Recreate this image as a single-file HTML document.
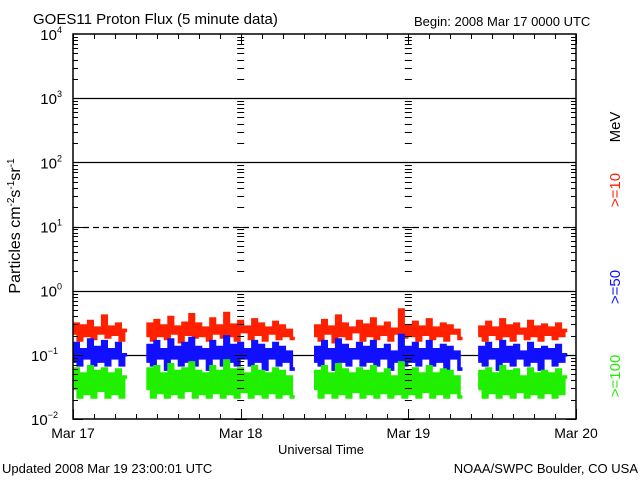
<!DOCTYPE html>
<html><head><meta charset="utf-8">
<style>
html,body{margin:0;padding:0;background:#fff;}
svg{display:block;font-family:"Liberation Sans","DejaVu Sans",sans-serif;}
</style></head>
<body>
<svg id="chart" width="640" height="480" viewBox="0 0 640 480">
<rect x="0" y="0" width="640" height="480" fill="#fff"/>
<text x="33" y="24" font-size="15">GOES11 Proton Flux (5 minute data)</text>
<text x="414" y="26" font-size="13">Begin: 2008 Mar 17 0000 UTC</text>
<g id="grid"></g>
<g id="series"></g>
<g id="axes"></g>
<text x="278" y="454" font-size="13">Universal Time</text>
<text transform="translate(20,226) rotate(-90)" text-anchor="middle" font-size="16">Particles cm<tspan dy="-6" font-size="10">-2</tspan><tspan dy="6">s</tspan><tspan dy="-6" font-size="10">-1</tspan><tspan dy="6">sr</tspan><tspan dy="-6" font-size="10">-1</tspan></text>
<text transform="translate(620,127) rotate(-90)" text-anchor="middle" font-size="15" fill="#000">MeV</text>
<text transform="translate(620,190) rotate(-90)" text-anchor="middle" font-size="15" fill="#ff2000">&gt;=10</text>
<text transform="translate(620,287) rotate(-90)" text-anchor="middle" font-size="15" fill="#1010ff">&gt;=50</text>
<text transform="translate(620,376) rotate(-90)" text-anchor="middle" font-size="15" fill="#20f000">&gt;=100</text>
<text x="2" y="473" font-size="13">Updated 2008 Mar 19 23:00:01 UTC</text>
<text x="638" y="473" font-size="13" text-anchor="end">NOAA/SWPC Boulder, CO USA</text>
</svg>
<script>
// 30-minute samples starting 2008 Mar 17 00:00 UTC; null = data gap
const n = null;
const dayLabels = ["Mar 17","Mar 18","Mar 19","Mar 20"];
const yDecades = [-2,-1,0,1,2,3,4];
const red10 = [
0.22,0.3,0.17,0.28,0.2,0.33,0.18,0.26,0.22,0.4,0.19,0.27,0.21,0.3,0.17,0.24,
n,n,n,n,n,
0.2,0.3,0.17,0.34,0.2,0.28,0.18,0.38,0.22,0.27,0.16,0.31,0.21,0.42,0.19,0.3,0.2,0.26,0.17,0.36,0.22,0.28,0.19,0.44,0.2,0.29,0.17,0.33,0.23,0.27,0.18,0.35,0.21,0.3,0.17,0.26,0.22,0.32,0.18,0.28,0.2,0.24,0.18,
n,n,n,n,n,
0.2,0.28,0.17,0.34,0.22,0.27,0.16,0.4,0.2,0.3,0.18,0.26,0.23,0.33,0.17,0.29,0.2,0.36,0.18,0.27,0.21,0.31,0.17,0.25,0.22,0.5,0.19,0.28,0.2,0.32,0.17,0.27,0.21,0.35,0.18,0.26,0.2,0.3,0.17,0.28,0.22,0.24,0.18,
n,n,n,n,
0.2,0.27,0.17,0.32,0.21,0.26,0.18,0.35,0.2,0.28,0.17,0.3,0.22,0.25,0.18,0.33,0.2,0.27,0.17,0.29,0.21,0.26,0.18,0.3,0.2,0.24,
n,n];
const blue50 = [
0.08,0.15,0.07,0.12,0.09,0.17,0.07,0.13,0.08,0.16,0.07,0.12,0.09,0.15,0.07,0.1,
n,n,n,n,n,
0.08,0.14,0.07,0.16,0.09,0.12,0.06,0.17,0.09,0.13,0.07,0.15,0.08,0.18,0.07,0.13,0.09,0.12,0.06,0.16,0.09,0.13,0.07,0.19,0.08,0.14,0.07,0.15,0.09,0.12,0.07,0.16,0.08,0.14,0.06,0.12,0.09,0.15,0.07,0.13,0.08,0.11,0.06,
n,n,n,n,n,
0.08,0.13,0.07,0.16,0.09,0.12,0.06,0.17,0.08,0.14,0.07,0.12,0.09,0.15,0.07,0.13,0.08,0.16,0.07,0.12,0.09,0.14,0.06,0.11,0.08,0.2,0.07,0.13,0.08,0.15,0.07,0.12,0.09,0.16,0.07,0.12,0.08,0.14,0.06,0.13,0.09,0.11,0.06,
n,n,n,n,
0.08,0.13,0.07,0.15,0.09,0.12,0.06,0.16,0.08,0.13,0.07,0.14,0.09,0.11,0.07,0.15,0.08,0.12,0.06,0.13,0.09,0.12,0.07,0.14,0.08,0.1,
n,n];
const green100 = [
0.03,0.06,0.022,0.05,0.025,0.065,0.022,0.055,0.028,0.06,0.022,0.05,0.025,0.058,0.022,0.045,
n,n,n,n,n,
0.03,0.06,0.022,0.065,0.026,0.05,0.022,0.07,0.025,0.055,0.022,0.06,0.028,0.075,0.022,0.055,0.025,0.05,0.022,0.065,0.026,0.055,0.022,0.08,0.025,0.058,0.022,0.06,0.027,0.05,0.022,0.065,0.025,0.055,0.022,0.05,0.026,0.06,0.022,0.055,0.025,0.045,0.022,
n,n,n,n,n,
0.03,0.055,0.022,0.065,0.026,0.05,0.022,0.07,0.025,0.058,0.022,0.05,0.027,0.06,0.022,0.055,0.025,0.065,0.022,0.05,0.026,0.058,0.022,0.045,0.025,0.075,0.022,0.055,0.025,0.06,0.022,0.05,0.027,0.065,0.022,0.05,0.025,0.058,0.022,0.055,0.026,0.045,0.022,
n,n,n,n,
0.03,0.055,0.022,0.06,0.026,0.05,0.022,0.065,0.025,0.055,0.022,0.058,0.027,0.045,0.022,0.06,0.025,0.05,0.022,0.055,0.026,0.05,0.022,0.058,0.025,0.045,
n,n];

const NS = "http://www.w3.org/2000/svg";
const X0 = 73, X1 = 576, Y0 = 34, Y1 = 419;
const hoursSpan = 72, stepH = 0.5;
const xScale = h => X0 + (h / hoursSpan) * (X1 - X0);
const yScale = v => Y1 - (Math.log10(v) - yDecades[0]) / (yDecades[yDecades.length-1] - yDecades[0]) * (Y1 - Y0);
function mk(tag, attrs, parent) {
  const e = document.createElementNS(NS, tag);
  for (const k in attrs) e.setAttribute(k, attrs[k]);
  parent.appendChild(e);
  return e;
}
const grid = document.getElementById("grid");
const axes = document.getElementById("axes");
const seriesG = document.getElementById("series");

yDecades.forEach(d => {
  if (d === yDecades[0] || d === yDecades[yDecades.length-1]) return;
  const y = Math.round(yScale(Math.pow(10, d))) + 0.5;
  const l = mk("line", {x1:X0, x2:X1, y1:y, y2:y, stroke:"#000", "stroke-width":1.3}, grid);
  if (d === 1) l.setAttribute("stroke-dasharray", "6,4");
  
  
});

const frame = mk("rect", {x:X0, y:Y0, width:X1-X0, height:Y1-Y0, fill:"none", stroke:"#000", "stroke-width":1.5}, axes);



const tickXs = [[X0, 1], [X1, -1]];
for (let di = 1; di < dayLabels.length - 1; di++) tickXs.push([xScale(di*24), 0]);
yDecades.forEach((d, i) => {
  if (i === yDecades.length - 1) return;
  for (let m = 1; m <= 9; m++) {
    const y = Math.round(yScale(m * Math.pow(10, d))) + 0.5;
    const len = m === 1 ? 10 : 5;
    tickXs.forEach(([tx, dir]) => {
      let x1, x2;
      if (dir === 1) { x1 = tx; x2 = tx + len; }
      else if (dir === -1) { x1 = tx - len; x2 = tx; }
      else { x1 = tx - len/2 - 1; x2 = tx + len/2 + 1; }
      const t = mk("line", {x1:x1, x2:x2, y1:y, y2:y, stroke:"#000", "stroke-width":1}, axes);
      
      
    });
  }
});
yDecades.forEach(d => {
  const y = yScale(Math.pow(10, d));
  const tx = mk("text", {x:X0-6, y:y+6, "text-anchor":"end", "font-size":15}, axes);
  tx.textContent = "10";
  const sup = mk("tspan", {dy:-7, "font-size":9}, tx);
  sup.textContent = d < 0 ? "\u2212" + (-d) : String(d);
  tx.setAttribute('x', X0 - 6 - (d < 0 ? 9 : 5));
  
  
});
for (let h = 0; h <= hoursSpan; h += 3) {
  const x = Math.round(xScale(h)) + 0.5;
  const len = h % 24 === 0 ? 10 : 5;
  const b = mk("line", {x1:x, x2:x, y1:Y1-len, y2:Y1, stroke:"#000", "stroke-width":1}, axes);
  
  
  const t = mk("line", {x1:x, x2:x, y1:Y0, y2:Y0+len, stroke:"#000", "stroke-width":1}, axes);
  
  
}
dayLabels.forEach((lab, i) => {
  const x = xScale(i * 24);
  const t = mk("text", {x:x, y:438, "text-anchor":"middle", "font-size":14}, axes);
  t.textContent = lab;
  
  
});

// series drawn as dense step traces (vertical spikes between samples)
function drawSeries(vals, color, name) {
  let d = "", pen = false;
  vals.forEach((v, i) => {
    if (v === null) { pen = false; return; }
    const x = xScale(i * stepH).toFixed(1), y = yScale(v).toFixed(1);
    const xm = xScale(i * stepH + stepH / 2).toFixed(1);
    if (!pen) d += "M" + x + "," + y;
    else d += "V" + y;
    d += "H" + xm;
    pen = true;
  });
  const p = mk("path", {d:d, fill:"none", stroke:color, "stroke-width":3.6, "stroke-linejoin":"miter"}, seriesG);
  
  
}
drawSeries(red10, "#ff2000", "series-10mev");
drawSeries(blue50, "#1010ff", "series-50mev");
drawSeries(green100, "#20f000", "series-100mev");
</script>
</body></html>
